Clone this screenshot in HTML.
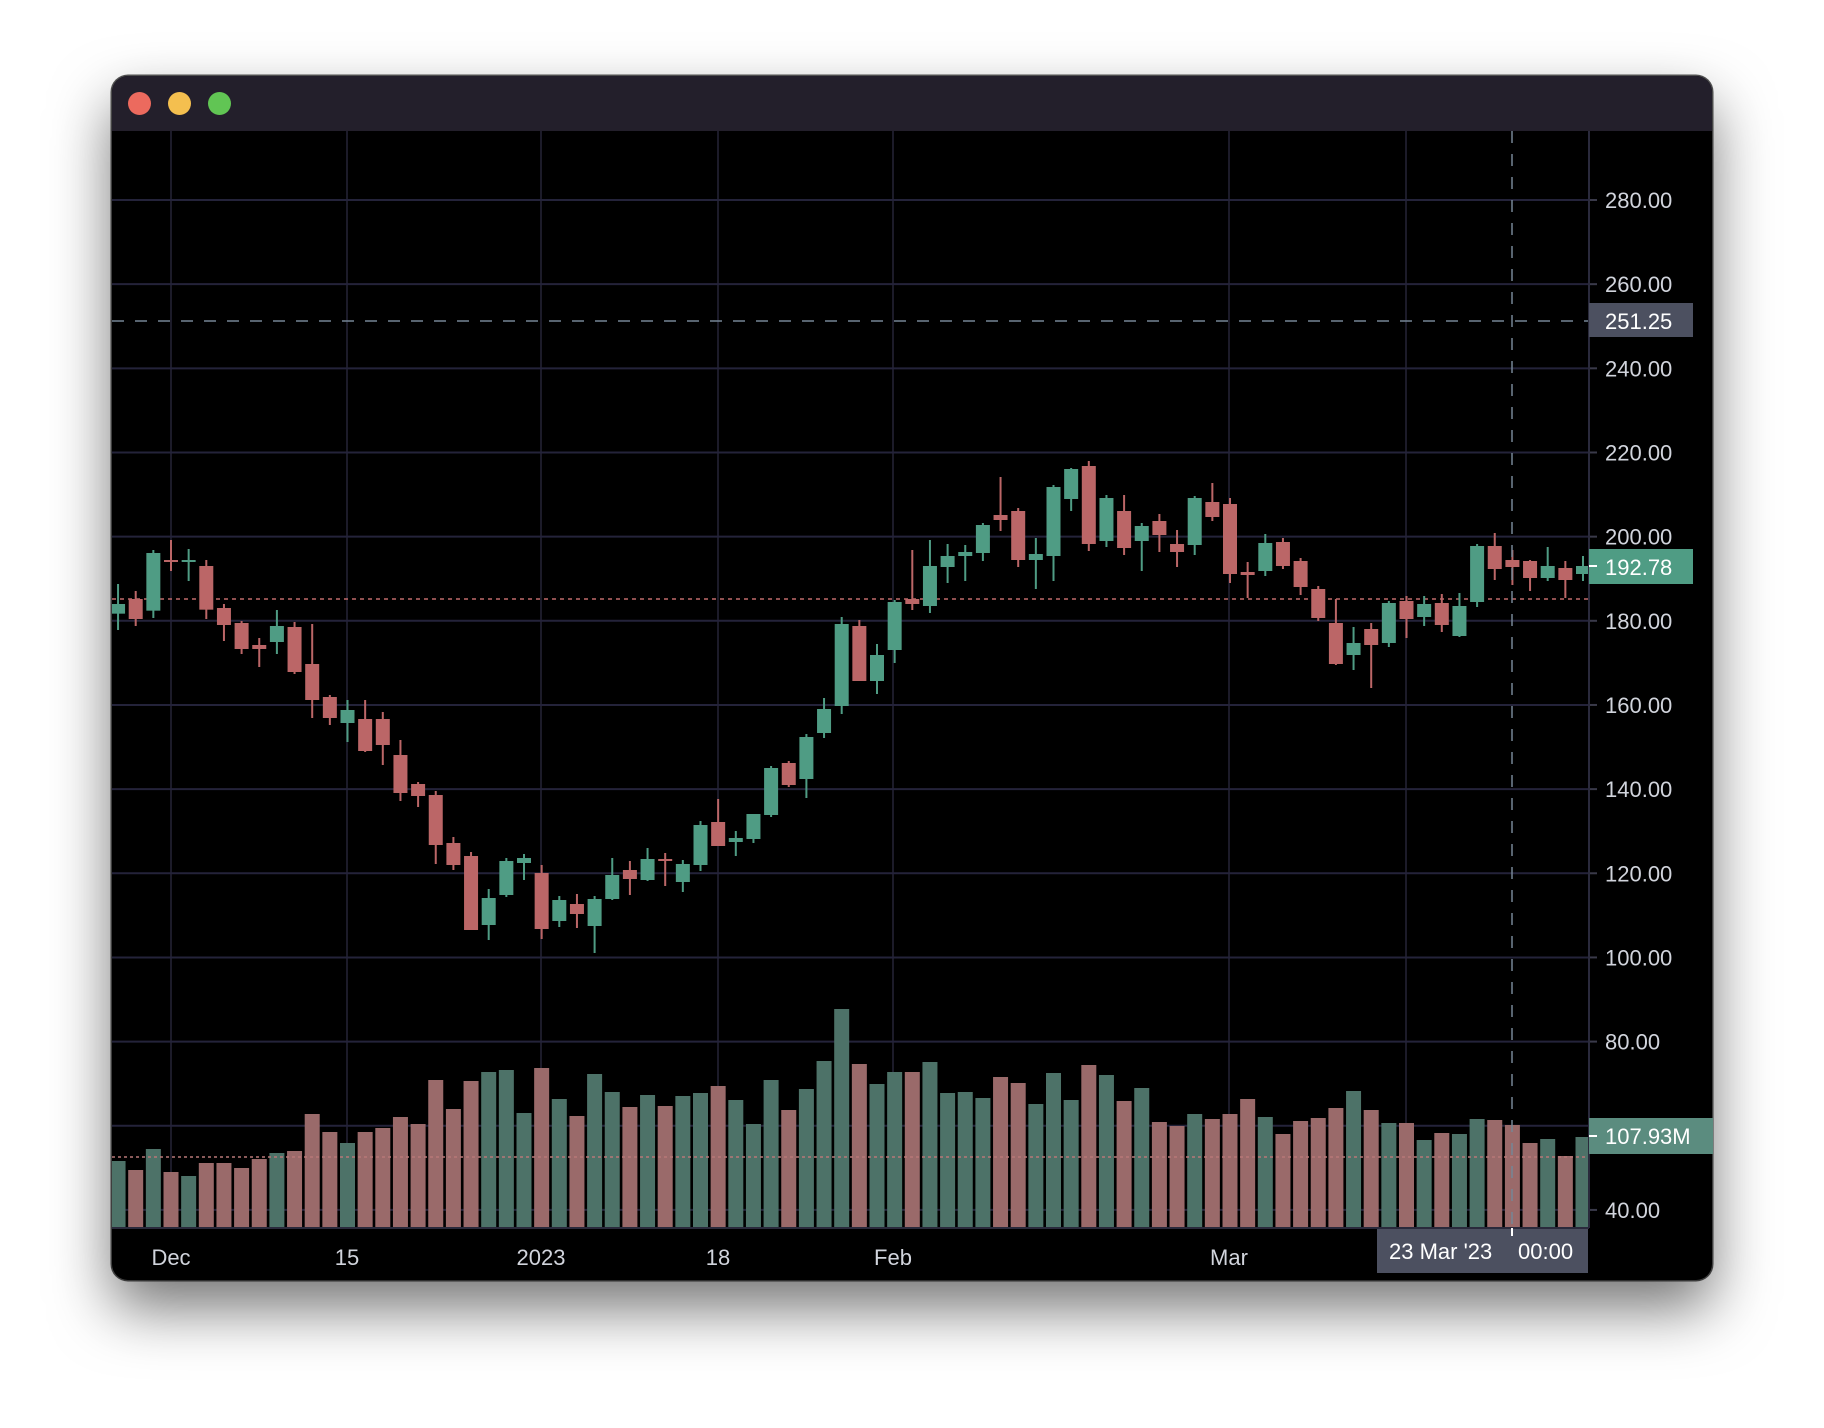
<!DOCTYPE html>
<html><head><meta charset="utf-8"><style>
html,body{margin:0;padding:0;background:#fff;width:1824px;height:1428px;overflow:hidden}
#win{position:absolute;left:112px;top:76px;width:1600px;height:1204px;border-radius:16px;background:#000;box-shadow:0 28px 60px rgba(0,0,0,0.55),0 0 0 1.5px #555;overflow:hidden}
#bar{position:absolute;left:0;top:0;width:1600px;height:55px;background:#231f2b}
.dot{position:absolute;top:16px;width:23px;height:23px;border-radius:50%}
svg{position:absolute;left:0;top:0}
text{font-family:"Liberation Sans",sans-serif}
</style></head><body>
<div id="win"><div id="bar">
<div class="dot" style="left:16px;background:#ec6a5e"></div>
<div class="dot" style="left:56px;background:#f4bf4f"></div>
<div class="dot" style="left:96px;background:#61c554"></div>
</div></div>
<svg id="s" width="1824" height="1428" viewBox="0 0 1824 1428"></svg>
<script>
var ns="http://www.w3.org/2000/svg",S=document.getElementById('s');
function el(t,a,p){var e=document.createElementNS(ns,t);for(var k in a)e.setAttribute(k,a[k]);(p||S).appendChild(e);return e;}
function tx(x,y,s,a){var e=el('text',Object.assign({x:x,y:y,fill:'#d1d4dc','font-size':22},a||{}));e.textContent=s;return e;}
var L=112,R=1589,T=131,B=1228;
var defs=el('defs',{});var cp=el('clipPath',{id:'c'},defs);el('rect',{x:L,y:T,width:R-L,height:B-T},cp);
var g=el('g',{'clip-path':'url(#c)'});
// vertical grid
[171,347,541,718,893,1229,1406].forEach(function(x){el('line',{x1:x,x2:x,y1:T,y2:B,stroke:'#1c1b29','stroke-width':2},g);});
// horizontal grid
for(var p=280;p>=40;p-=20){var y=200+(280-p)*4.208;el('line',{x1:L,x2:R,y1:y,y2:y,stroke:'#24233a','stroke-width':2},g);
 el('line',{x1:R,x2:R+8,y1:y,y2:y,stroke:'#3a3a4a','stroke-width':2});
 tx(1605,y+8,p.toFixed(2)+'');}
function X(i){return 171+i*17.65;}
// volume
var vol=[[483,'g'],[510,'r'],[447,'g'],[516,'r'],[528,'g'],[489,'r'],[489,'r'],[504,'r'],[477,'r'],[459,'g'],[453,'r'],[342,'r'],[396,'r'],[429,'g'],[396,'r'],[384,'r'],[351,'r'],[372,'r'],[240,'r'],[327,'r'],[243,'r'],[216,'g'],[210,'g'],[339,'g'],[204,'r'],[297,'g'],[348,'r'],[222,'g'],[276,'g'],[321,'r'],[285,'g'],[318,'r'],[288,'g'],[279,'g'],[258,'r'],[300,'g'],[372,'g'],[240,'g'],[330,'r'],[267,'g'],[183,'g'],[27,'g'],
[192,'r'],[252,'g'],[216,'g'],[216,'r'],[186,'g'],[279,'g'],[276,'g'],[294,'g'],[231,'r'],[249,'r'],[312,'g'],[219,'g'],[300,'g'],[195,'r'],[225,'g'],[303,'r'],[264,'g'],[366,'r'],[378,'r'],[342,'g'],[357,'r'],[342,'r'],[297,'r'],[351,'g'],[402,'r'],[363,'r'],[354,'r'],[324,'r'],[273,'g'],[330,'r'],[369,'g'],[369,'r'],[420,'g'],[399,'r'],[402,'g'],[357,'g'],[360,'r'],[375,'r'],[429,'r'],[417,'g'],[468,'r'],[411,'g']];
vol.forEach(function(v,k){var i=k-3,y=1000+v[0]/3;el('rect',{x:X(i)-7.5,y:y,width:15,height:B-y,fill:v[1]=='g'?'#4d7268':'#9a6a6a'},g);});
el('line',{x1:L,x2:R,y1:1157,y2:1157,stroke:'#b87878','stroke-width':1.5,'stroke-dasharray':'3 3'},g);
// candles
var Y0={3:520,4:600,5:450,6:500};
var c=[[3,'g',252,281,192,330],[3,'r',237,297,213,318],[3,'g',99,272,90,294],[3,'r',120,125,60,153],[3,'g',120,125,87,183],[3,'r',138,269,120,297],[3,'r',264,315,252,363],[3,'r',309,387,303,402],[3,'r',375,387,354,441],[3,'g',318,366,270,402],[3,'r',321,456,306,462],[3,'r',432,540,312,594],[3,'r',531,594,525,615],[3,'g',570,609,540,666],[3,'r',597,693,540,696],[3,'r',597,675,576,735],[3,'r',705,819,660,843],[3,'r',792,828,786,861],[3,'r',825,975,813,1032],[3,'r',969,1035,951,1050],[3,'r',1008,1230,996,1230],[3,'g',1134,1215,1107,1260],[3,'g',1023,1125,1014,1131],[3,'g',1014,1029,1002,1080],
[4,'r',819,987,795,1017],[4,'g',900,963,888,981],[4,'r',912,942,882,984],[4,'g',897,978,888,1059],[4,'g',825,897,774,900],[4,'r',810,837,783,885],[4,'g',777,840,744,843],[4,'r',777,783,759,858],[4,'g',792,846,780,876],[4,'g',675,795,663,813],[4,'r',666,738,597,738],[4,'g',714,726,693,768],[4,'g',642,717,642,729],[4,'g',504,645,498,651],[4,'r',489,555,483,561],[4,'g',411,537,402,594],[4,'g',327,399,294,414],[4,'g',72,318,51,342],[4,'r',78,243,60,243],[4,'g',165,243,132,282],
[5,'g',456,600,450,639],[5,'r',447,462,300,480],[5,'g',348,468,270,489],[5,'g',318,351,282,399],[5,'g',306,318,285,393],[5,'g',225,309,219,333],[5,'r',195,210,81,243],[5,'r',183,330,174,351],[5,'g',312,330,264,417],[5,'g',111,318,105,393],[5,'g',57,147,54,183],[5,'r',48,282,33,303],[5,'g',144,273,135,291],[5,'r',183,294,135,315],[5,'g',228,273,219,363],[5,'r',213,255,192,306],[5,'r',282,306,240,351],[5,'g',144,285,138,315],[5,'r',156,201,99,213],[5,'r',162,372,144,399],[5,'r',366,375,336,444],
[6,'g',129,213,102,228],[6,'r',126,198,114,207],[6,'r',183,261,174,285],[6,'r',267,354,258,363],[6,'r',369,492,297,495],[6,'g',429,465,381,510],[6,'r',387,435,369,564],[6,'g',309,429,303,441],[6,'r',303,357,288,414],[6,'g',312,351,288,378],[6,'r',309,375,282,396],[6,'g',318,408,279,411],[6,'g',138,306,132,321],[6,'r',138,207,99,240],[6,'r',180,201,150,255],[6,'r',183,234,180,273],[6,'g',198,234,141,243],[6,'r',204,240,183,294],[6,'g',198,222,168,243]];
el('line',{x1:L,x2:R,y1:599,y2:599,stroke:'#c06a6a','stroke-width':1.5,'stroke-dasharray':'4 4'},g);
c.forEach(function(d,k){var i=k-3,y0=Y0[d[0]],col=d[1]=='g'?'#4f9c84':'#bb6667',x=X(i);
 var bt=y0+d[2]/3,bb=y0+d[3]/3,wt=y0+d[4]/3,wb=y0+d[5]/3;if(bb-bt<2)bb=bt+2;
 el('rect',{x:x-1,y:wt,width:2,height:wb-wt,fill:col},g);
 el('rect',{x:x-7,y:bt,width:14,height:bb-bt,fill:col},g);});
// crosshair
el('line',{x1:L,x2:R,y1:321,y2:321,stroke:'#758696','stroke-width':1.5,'stroke-dasharray':'12 11'},g);
el('line',{x1:1512,x2:1512,y1:T,y2:B,stroke:'#758696','stroke-width':1.5,'stroke-dasharray':'12 11'},g);
// axes
el('line',{x1:R,x2:R,y1:T,y2:B,stroke:'#2a2a3c','stroke-width':2});
el('line',{x1:L,x2:R,y1:B,y2:B,stroke:'#2a2a3c','stroke-width':2});
// price labels
el('rect',{x:R,y:303,width:104,height:34,fill:'#4c5060'});tx(1605,329,'251.25',{fill:'#fff'});
el('rect',{x:R,y:549,width:104,height:35,fill:'#4f9c84'});tx(1605,575,'192.78',{fill:'#fff'});
el('rect',{x:R,y:1118,width:124,height:36,fill:'#5b8c7f'});tx(1605,1144,'107.93M',{fill:'#fff'});
el('line',{x1:R,x2:R+8,y1:1136,y2:1136,stroke:'#fff','stroke-width':2});
el('line',{x1:R,x2:R+8,y1:566,y2:566,stroke:'#fff','stroke-width':2});
// time labels
[[171,'Dec'],[347,'15'],[541,'2023'],[718,'18'],[893,'Feb'],[1229,'Mar']].forEach(function(t){tx(t[0],1265,t[1],{'text-anchor':'middle'});});
el('rect',{x:1377,y:1229,width:211,height:44,fill:'#4c5060'});
tx(1389,1259,"23 Mar '23",{fill:'#fff'});tx(1518,1259,'00:00',{fill:'#fff'});
el('line',{x1:1512,x2:1512,y1:1228,y2:1236,stroke:'#fff','stroke-width':2});
</script>
</body></html>
